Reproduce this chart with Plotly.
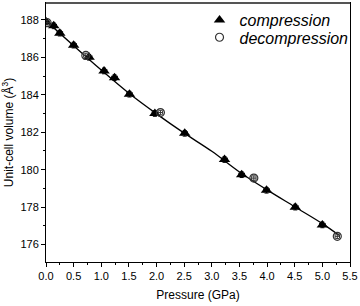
import plotly.graph_objects as go

# compression data (triangles)
p_comp = [0.0, 0.14, 0.25, 0.5, 0.78, 1.05, 1.24, 1.51, 1.97, 2.51, 3.23, 3.54, 3.99, 4.51, 5.0]
v_comp = [187.9, 187.68, 187.29, 186.65, 186.0, 185.27, 184.91, 184.03, 183.0, 181.94, 180.54, 179.73, 178.9, 178.0, 177.05]

# decompression data (open circles)
p_decomp = [0.02, 0.72, 2.07, 3.76, 5.27]
v_decomp = [187.85, 186.1, 183.05, 179.55, 176.44]

# fitted EoS curve
p_fit = [0.0, 0.5, 1.0, 1.5, 2.0, 2.5, 3.0, 3.5, 4.0, 4.5, 5.0, 5.3]
v_fit = [187.95, 186.62, 185.32, 184.08, 182.98, 181.95, 180.98, 179.88, 178.92, 178.02, 177.12, 176.5]

x_ticks = [0.0, 0.5, 1.0, 1.5, 2.0, 2.5, 3.0, 3.5, 4.0, 4.5, 5.0, 5.5]
y_ticks = [176, 178, 180, 182, 184, 186, 188]

fig = go.Figure()
fig.add_trace(go.Scatter(x=p_fit, y=v_fit, mode="lines", line=dict(color="black", width=1.3, shape="spline"),
                         showlegend=False, hoverinfo="skip"))
fig.add_trace(go.Scatter(x=p_comp, y=v_comp, mode="markers", name="compression", legend="legend",
                         marker=dict(symbol="triangle-up", size=10, color="black"),
                         error_y=dict(type="constant", value=0.15, color="black", thickness=1, width=2),
                         error_x=dict(type="constant", value=0.05, color="black", thickness=1, width=2)))
fig.add_trace(go.Scatter(x=p_decomp, y=v_decomp, mode="markers", name="decompression", legend="legend2",
                         marker=dict(symbol="circle-open", size=8, color="#333333", line=dict(width=1.2)),
                         error_y=dict(type="constant", value=0.12, color="#333333", thickness=1, width=2),
                         error_x=dict(type="constant", value=0.04, color="#333333", thickness=1, width=2)))

fig.add_shape(type="line", xref="paper", yref="paper", x0=0, x1=1, y0=1, y1=1,
              line=dict(color="#555555", width=2))

legend_font = dict(size=16, family="Liberation Sans, Arial, sans-serif", style="italic")
fig.update_layout(
    width=360, height=306,
    margin=dict(l=46, r=10, t=3, b=44),
    paper_bgcolor="white", plot_bgcolor="white",
    font=dict(family="Liberation Sans, Arial, sans-serif", color="black", size=11),
    legend=dict(x=0.505, y=1.0, xanchor="left", yanchor="top",
                bgcolor="rgba(0,0,0,0)", font=legend_font, itemsizing="trace"),
    legend2=dict(x=0.505, y=0.933, xanchor="left", yanchor="top",
                 bgcolor="rgba(0,0,0,0)", font=legend_font, itemsizing="trace"),
)
fig.update_xaxes(range=[0, 5.5], tickvals=x_ticks, ticktext=[f"{t:.1f}" for t in x_ticks],
                 ticks="outside", ticklen=4, tickcolor="black", showgrid=False, zeroline=False,
                 showline=True, linecolor="black", linewidth=1, mirror=True,
                 minor=dict(dtick=0.25, ticks="outside", ticklen=2, tickcolor="black"),
                 title=dict(text="Pressure (GPa)", font=dict(size=12), standoff=9))
fig.update_yaxes(range=[175.07, 188.9], tickvals=y_ticks, ticks="outside", ticklen=4, tickcolor="black",
                 showgrid=False, zeroline=False, showline=True, linecolor="black", linewidth=1, mirror=True,
                 minor=dict(dtick=1, ticks="outside", ticklen=2, tickcolor="black"),
                 title=dict(text="Unit-cell volume (Å<sup>3</sup>)", font=dict(size=12), standoff=5))

fig.write_html("out.html", config={"displayModeBar": False},
               post_script="document.body.style.margin='0';document.body.style.overflow='hidden';")
